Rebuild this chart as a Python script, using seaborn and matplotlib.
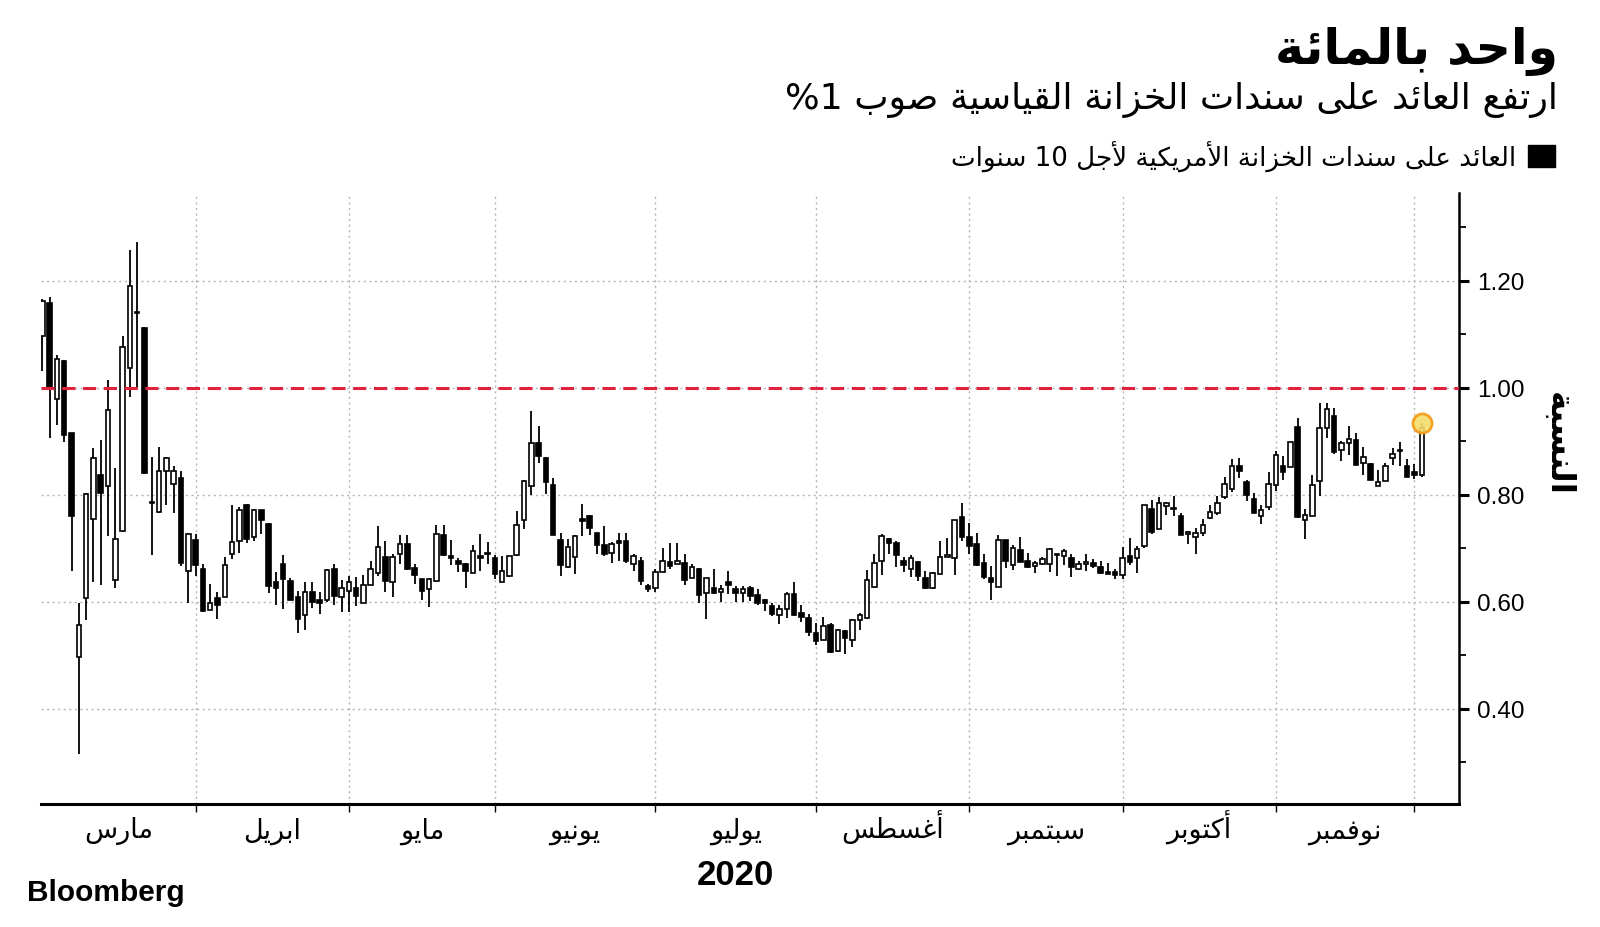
import re
import numpy as np
import pandas as pd
import matplotlib
matplotlib.use("Agg")
import matplotlib.pyplot as plt
from matplotlib.patches import Rectangle
import seaborn as sns

# ---------------- data ----------------
open_ = [1.097, 1.159, 0.979, 1.050, 0.915, 0.497, 0.607, 0.755, 0.837, 0.816,
         0.640, 0.732, 1.037, 1.142, 1.112, 0.786, 0.768, 0.844, 0.821, 0.831,
         0.658, 0.716, 0.661, 0.585, 0.607, 0.608, 0.690, 0.713, 0.781, 0.721,
         0.771, 0.745, 0.636, 0.671, 0.639, 0.608, 0.576, 0.618, 0.603, 0.603,
         0.661, 0.608, 0.621, 0.626, 0.598, 0.632, 0.654, 0.683, 0.637, 0.689,
         0.708, 0.663, 0.642, 0.623, 0.639, 0.724, 0.685, 0.676, 0.671, 0.654,
         0.685, 0.692, 0.681, 0.637, 0.648, 0.688, 0.752, 0.816, 0.897, 0.869,
         0.819, 0.716, 0.665, 0.684, 0.755, 0.761, 0.728, 0.707, 0.692, 0.711,
         0.713, 0.671, 0.677, 0.629, 0.626, 0.656, 0.674, 0.670, 0.672, 0.644,
         0.661, 0.616, 0.625, 0.618, 0.636, 0.623, 0.616, 0.626, 0.613, 0.603,
         0.592, 0.576, 0.587, 0.615, 0.579, 0.570, 0.542, 0.529, 0.556, 0.508,
         0.545, 0.529, 0.566, 0.569, 0.628, 0.676, 0.717, 0.710, 0.677, 0.661,
         0.674, 0.645, 0.625, 0.652, 0.683, 0.681, 0.759, 0.721, 0.708, 0.673,
         0.645, 0.628, 0.716, 0.668, 0.697, 0.676, 0.667, 0.670, 0.670, 0.688,
         0.685, 0.681, 0.661, 0.671, 0.672, 0.665, 0.654, 0.656, 0.650, 0.685,
         0.681, 0.705, 0.773, 0.736, 0.779, 0.773, 0.761, 0.727, 0.721, 0.729,
         0.756, 0.765, 0.795, 0.810, 0.853, 0.824, 0.792, 0.761, 0.777, 0.819,
         0.853, 0.852, 0.926, 0.752, 0.761, 0.825, 0.924, 0.948, 0.883, 0.896,
         0.903, 0.859, 0.858, 0.816, 0.826, 0.869, 0.882, 0.853, 0.842, 0.836]
high = [1.165, 1.170, 1.061, 1.052, 0.916, 0.598, 0.803, 0.888, 0.902, 1.015,
        0.850, 1.097, 1.258, 1.272, 1.113, 0.871, 0.890, 0.871, 0.853, 0.845,
        0.728, 0.726, 0.671, 0.634, 0.619, 0.683, 0.781, 0.777, 0.783, 0.773,
        0.771, 0.747, 0.655, 0.688, 0.645, 0.621, 0.636, 0.636, 0.619, 0.661,
        0.670, 0.641, 0.648, 0.647, 0.650, 0.676, 0.741, 0.714, 0.690, 0.724,
        0.724, 0.670, 0.643, 0.645, 0.743, 0.743, 0.716, 0.681, 0.672, 0.707,
        0.726, 0.711, 0.688, 0.685, 0.685, 0.769, 0.827, 0.956, 0.929, 0.871,
        0.832, 0.729, 0.717, 0.724, 0.783, 0.763, 0.729, 0.741, 0.711, 0.729,
        0.729, 0.689, 0.683, 0.634, 0.661, 0.700, 0.710, 0.710, 0.689, 0.671,
        0.663, 0.645, 0.661, 0.632, 0.657, 0.629, 0.629, 0.629, 0.623, 0.605,
        0.597, 0.594, 0.619, 0.636, 0.594, 0.577, 0.561, 0.571, 0.561, 0.550,
        0.548, 0.567, 0.579, 0.659, 0.690, 0.726, 0.719, 0.713, 0.684, 0.687,
        0.676, 0.658, 0.655, 0.714, 0.719, 0.752, 0.785, 0.747, 0.728, 0.690,
        0.666, 0.724, 0.716, 0.707, 0.721, 0.692, 0.677, 0.684, 0.700, 0.690,
        0.698, 0.689, 0.676, 0.690, 0.679, 0.676, 0.672, 0.661, 0.703, 0.719,
        0.705, 0.781, 0.790, 0.795, 0.787, 0.798, 0.765, 0.732, 0.737, 0.755,
        0.781, 0.797, 0.834, 0.866, 0.869, 0.827, 0.803, 0.781, 0.842, 0.881,
        0.872, 0.898, 0.943, 0.774, 0.836, 0.972, 0.972, 0.963, 0.900, 0.929,
        0.915, 0.890, 0.859, 0.847, 0.859, 0.887, 0.898, 0.867, 0.858, 0.934]
low = [1.032, 0.907, 0.930, 0.898, 0.658, 0.315, 0.565, 0.636, 0.632, 0.723,
       0.626, 0.730, 0.983, 0.999, 0.839, 0.688, 0.765, 0.781, 0.765, 0.666,
       0.598, 0.648, 0.580, 0.585, 0.568, 0.608, 0.679, 0.692, 0.710, 0.713,
       0.726, 0.617, 0.594, 0.587, 0.603, 0.541, 0.547, 0.589, 0.577, 0.600,
       0.594, 0.581, 0.581, 0.592, 0.597, 0.632, 0.648, 0.619, 0.608, 0.671,
       0.659, 0.634, 0.603, 0.590, 0.636, 0.686, 0.668, 0.655, 0.625, 0.654,
       0.658, 0.671, 0.642, 0.637, 0.647, 0.685, 0.736, 0.800, 0.860, 0.801,
       0.725, 0.648, 0.663, 0.652, 0.723, 0.724, 0.690, 0.685, 0.672, 0.677,
       0.672, 0.657, 0.632, 0.619, 0.618, 0.655, 0.661, 0.670, 0.632, 0.644,
       0.598, 0.568, 0.615, 0.599, 0.615, 0.599, 0.600, 0.601, 0.594, 0.582,
       0.573, 0.558, 0.569, 0.574, 0.563, 0.536, 0.519, 0.529, 0.505, 0.507,
       0.503, 0.516, 0.547, 0.568, 0.626, 0.650, 0.689, 0.665, 0.655, 0.647,
       0.639, 0.623, 0.623, 0.652, 0.683, 0.650, 0.713, 0.690, 0.667, 0.642,
       0.603, 0.628, 0.663, 0.659, 0.674, 0.663, 0.653, 0.668, 0.656, 0.648,
       0.668, 0.647, 0.659, 0.658, 0.663, 0.652, 0.652, 0.642, 0.643, 0.668,
       0.653, 0.700, 0.726, 0.736, 0.763, 0.761, 0.725, 0.708, 0.690, 0.723,
       0.755, 0.763, 0.792, 0.805, 0.832, 0.789, 0.765, 0.745, 0.771, 0.807,
       0.827, 0.852, 0.756, 0.717, 0.760, 0.798, 0.907, 0.876, 0.863, 0.874,
       0.855, 0.836, 0.828, 0.816, 0.825, 0.855, 0.853, 0.834, 0.829, 0.834]
close = [1.163, 0.997, 1.053, 0.911, 0.761, 0.557, 0.802, 0.869, 0.803, 0.959,
         0.718, 1.077, 1.190, 1.139, 0.841, 0.784, 0.845, 0.868, 0.845, 0.672,
         0.726, 0.668, 0.582, 0.597, 0.594, 0.668, 0.711, 0.771, 0.718, 0.771,
         0.752, 0.630, 0.626, 0.642, 0.603, 0.568, 0.618, 0.600, 0.598, 0.660,
         0.611, 0.626, 0.637, 0.611, 0.632, 0.661, 0.703, 0.639, 0.683, 0.708,
         0.661, 0.650, 0.621, 0.642, 0.726, 0.687, 0.681, 0.671, 0.658, 0.694,
         0.681, 0.689, 0.652, 0.658, 0.685, 0.744, 0.825, 0.896, 0.873, 0.823,
         0.725, 0.668, 0.703, 0.723, 0.751, 0.737, 0.707, 0.689, 0.708, 0.710,
         0.676, 0.685, 0.639, 0.623, 0.656, 0.676, 0.666, 0.676, 0.640, 0.665,
         0.613, 0.644, 0.616, 0.624, 0.631, 0.616, 0.624, 0.610, 0.597, 0.597,
         0.577, 0.587, 0.615, 0.576, 0.571, 0.544, 0.526, 0.554, 0.507, 0.547,
         0.532, 0.565, 0.576, 0.640, 0.673, 0.723, 0.710, 0.687, 0.668, 0.681,
         0.648, 0.626, 0.654, 0.683, 0.688, 0.752, 0.721, 0.705, 0.668, 0.647,
         0.636, 0.716, 0.677, 0.700, 0.674, 0.665, 0.672, 0.679, 0.698, 0.687,
         0.694, 0.665, 0.671, 0.671, 0.666, 0.654, 0.652, 0.650, 0.682, 0.674,
         0.699, 0.781, 0.731, 0.784, 0.784, 0.773, 0.725, 0.727, 0.729, 0.743,
         0.768, 0.784, 0.821, 0.853, 0.845, 0.800, 0.766, 0.772, 0.821, 0.874,
         0.842, 0.898, 0.758, 0.763, 0.819, 0.924, 0.960, 0.879, 0.896, 0.905,
         0.856, 0.870, 0.828, 0.824, 0.853, 0.877, 0.881, 0.834, 0.837, 0.924]

# trading-day index where each month starts (Mar ... Nov, end)
month_starts = [0, 21, 42, 62, 84, 106, 127, 148, 169, 188]
month_names = ["مارس", "ابريل", "مايو", "يونيو", "يوليو", "أغسطس",
               "سبتمبر", "أكتوبر", "نوفمبر"]
y_major = [0.40, 0.60, 0.80, 1.00, 1.20]
y_minor = [0.30, 0.50, 0.70, 0.90, 1.10, 1.30]
threshold = 1.0

title = "واحد بالمائة"
subtitle = "ارتفع العائد على سندات الخزانة القياسية صوب 1%"
legend_label = "العائد على سندات الخزانة الأمريكية لأجل 10 سنوات"
ylabel = "النسبة"
year_label = "2020"
source = "Bloomberg"

# ---------------- Arabic shaping (presentation forms + visual order) ----------------
AR = {
    '\u0621': (0xFE80, 'U'), '\u0622': (0xFE81, 'R'), '\u0623': (0xFE83, 'R'),
    '\u0624': (0xFE85, 'R'), '\u0625': (0xFE87, 'R'), '\u0626': (0xFE89, 'D'),
    '\u0627': (0xFE8D, 'R'), '\u0628': (0xFE8F, 'D'), '\u0629': (0xFE93, 'R'),
    '\u062A': (0xFE95, 'D'), '\u062B': (0xFE99, 'D'), '\u062C': (0xFE9D, 'D'),
    '\u062D': (0xFEA1, 'D'), '\u062E': (0xFEA5, 'D'), '\u062F': (0xFEA9, 'R'),
    '\u0630': (0xFEAB, 'R'), '\u0631': (0xFEAD, 'R'), '\u0632': (0xFEAF, 'R'),
    '\u0633': (0xFEB1, 'D'), '\u0634': (0xFEB5, 'D'), '\u0635': (0xFEB9, 'D'),
    '\u0636': (0xFEBD, 'D'), '\u0637': (0xFEC1, 'D'), '\u0638': (0xFEC5, 'D'),
    '\u0639': (0xFEC9, 'D'), '\u063A': (0xFECD, 'D'), '\u0641': (0xFED1, 'D'),
    '\u0642': (0xFED5, 'D'), '\u0643': (0xFED9, 'D'), '\u0644': (0xFEDD, 'D'),
    '\u0645': (0xFEE1, 'D'), '\u0646': (0xFEE5, 'D'), '\u0647': (0xFEE9, 'D'),
    '\u0648': (0xFEED, 'R'), '\u0649': (0xFEEF, 'R'), '\u064A': (0xFEF1, 'D'),
}
LAMALEF = {'\u0622': 0xFEF5, '\u0623': 0xFEF7, '\u0625': 0xFEF9, '\u0627': 0xFEFB}


def ar(text):
    units = []
    i = 0
    while i < len(text):
        ch = text[i]
        if ch == '\u0644' and i + 1 < len(text) and text[i + 1] in LAMALEF:
            units.append(('LA', LAMALEF[text[i + 1]]))
            i += 2
        else:
            units.append(('C', ch))
            i += 1

    def jt(u):
        if u[0] == 'LA':
            return 'R'
        return AR.get(u[1], (None, 'N'))[1]

    out = []
    for k, u in enumerate(units):
        t = jt(u)
        pt = jt(units[k - 1]) if k > 0 else 'N'
        nt = jt(units[k + 1]) if k + 1 < len(units) else 'N'
        cp = t in ('D', 'R') and pt == 'D'
        cn = t == 'D' and nt in ('D', 'R')
        if u[0] == 'LA':
            out.append(chr(u[1] + (1 if cp else 0)))
            continue
        if t == 'N':
            out.append(u[1])
            continue
        base = AR[u[1]][0]
        if t == 'U':
            out.append(chr(base))
            continue
        off = 3 if (cp and cn) else 2 if cn else 1 if cp else 0
        out.append(chr(base + off))
    rev = ''.join(out)[::-1]
    return re.sub(r'[0-9A-Za-z.]+', lambda m: m.group(0)[::-1], rev)


# ---------------- style ----------------
sns.set_theme(style="white")
plt.rcParams['font.family'] = ['DejaVu Sans']
AR_FONT = ['DejaVu Sans']
NUM_FONT = ['Liberation Sans', 'DejaVu Sans']

W, H = 1600, 928
fig = plt.figure(figsize=(W / 100, H / 100), dpi=100)
fig.patch.set_facecolor('white')


def fx(px):
    return px / W


def fy(py):
    return 1 - py / H


ax = fig.add_axes([fx(41), fy(805), fx(1459) - fx(41), fy(194) - fy(805)])
ax.set_facecolor('white')

df = pd.DataFrame({'open': open_, 'high': high, 'low': low, 'close': close})
df['idx'] = np.arange(len(df))
df['up'] = df['close'] >= df['open']

# grid
grid_kw = dict(color='#b5b5b5', lw=1.0, ls=(0, (1.5, 2.5)), zorder=0)
for yv in y_major:
    ax.axhline(yv, **grid_kw)
for xv in month_starts[1:]:
    ax.axvline(xv, **grid_kw)

# wicks
ax.vlines(df['idx'], df['low'], df['high'], color='black', lw=1.3, zorder=2)
# bodies
bottom = df[['open', 'close']].min(axis=1)
height = (df['close'] - df['open']).abs().clip(lower=0.003)
faces = np.where(df['up'], 'white', 'black')
ax.bar(df['idx'], height, bottom=bottom, width=0.62, color=faces,
       edgecolor='black', linewidth=1.2, zorder=3)

# threshold line
ax.axhline(threshold, color='#e0223f', lw=2.2, ls=(0, (4.3, 2.5)), zorder=4)

# last-value marker
last = df.iloc[-1]
ax.scatter([last['idx']], [last['high']], s=190, facecolor='#f6dd6a',
           edgecolor='#f39a14', linewidth=2.0, alpha=0.9, zorder=5)

ax.set_xlim(-0.18, 194.1)
ax.set_ylim(0.222, 1.364)

# spines
sns.despine(ax=ax, left=True, top=True, right=False, bottom=False)
ax.spines['bottom'].set_color('black')
ax.spines['bottom'].set_linewidth(2.2)
ax.spines['right'].set_color('black')
ax.spines['right'].set_linewidth(1.8)

# x ticks: boundaries (major) and month labels (minor)
ax.set_xticks(month_starts[1:])
ax.set_xticklabels([])
mids = [(a + b) / 2 for a, b in zip(month_starts[:-1], month_starts[1:])]
ax.set_xticks(mids, minor=True)
ax.set_xticklabels([ar(m) for m in month_names], minor=True,
                   fontfamily=AR_FONT, fontsize=19.5, color='black')
for lbl in ax.get_xticklabels(minor=True):
    lbl.set_verticalalignment('baseline')
ax.tick_params(axis='x', which='major', direction='out', length=6, width=1.0,
               color='black', bottom=True)
ax.tick_params(axis='x', which='minor', length=0, pad=24, bottom=True)

# y ticks on right
ax.yaxis.tick_right()
ax.set_yticks(y_major)
ax.set_yticklabels([f"{v:.2f}" for v in y_major], fontfamily=NUM_FONT,
                   fontsize=17.5, color='black')
ax.set_yticks(y_minor, minor=True)
ax.tick_params(axis='y', which='major', direction='out', length=7, width=2.2,
               color='black', right=True, left=False, pad=6)
ax.tick_params(axis='y', which='minor', direction='out', length=5, width=1.3,
               color='black', right=True, left=False)

renderer = fig.canvas.get_renderer()


def fit(t, target, use_height=False):
    bb = t.get_window_extent(renderer)
    size = bb.height if use_height else bb.width
    t.set_fontsize(t.get_fontsize() * target / size)
    return t


# titles
t1 = fig.text(fx(1558), fy(51), ar(title), ha='right', va='center',
              fontfamily=AR_FONT, fontweight='bold', fontsize=32, color='black')
fit(t1, 284)
t2 = fig.text(fx(1558), fy(100), ar(subtitle), ha='right', va='center',
              fontfamily=AR_FONT, fontsize=22, color='black')
fit(t2, 774)

# legend
fig.patches.append(Rectangle((fx(1527.5), fy(168)), fx(27.5), fy(146) - fy(168),
                             transform=fig.transFigure, color='black'))
t3 = fig.text(fx(1516), fy(157), ar(legend_label), ha='right', va='center',
              fontfamily=AR_FONT, fontsize=17, color='black')
fit(t3, 565)

# y label (right side)
t4 = fig.text(fx(1558), fy(444), ar(ylabel), ha='center', va='center',
              rotation=270, fontfamily=AR_FONT, fontweight='bold', fontsize=24,
              color='black')
fit(t4, 104, use_height=True)

# year and source
fig.text(fx(735), fy(876), year_label, ha='center', va='center',
         fontfamily=NUM_FONT, fontweight='bold', fontsize=25, color='black')
fig.text(fx(27), fy(893), source, ha='left', va='center',
         fontfamily=NUM_FONT, fontweight='bold', fontsize=21.5, color='black')

fig.savefig('out.png', dpi=100, facecolor='white')
